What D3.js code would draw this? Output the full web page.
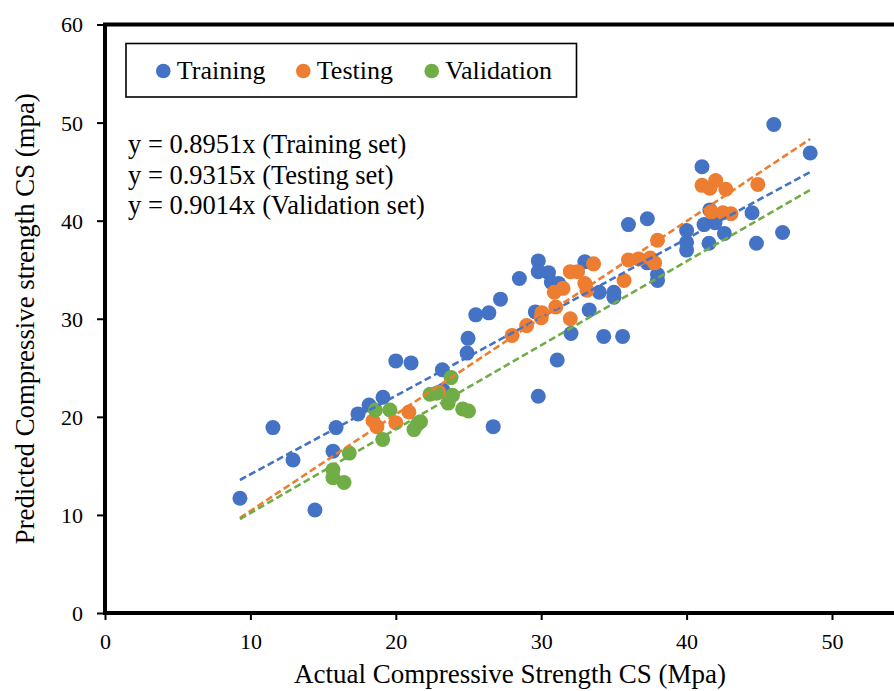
<!DOCTYPE html>
<html>
<head>
<meta charset="utf-8">
<script src="https://cdn.jsdelivr.net/npm/d3@7/dist/d3.min.js"></script>
<style>
  html, body { margin: 0; padding: 0; background: #fff; }
  svg { display: block; font-family: "Liberation Serif", "Times New Roman", serif; }
</style>
</head>
<body>
<div id="chart"></div>
<script>
// ---------- data ----------
const seriesNames = ["Training", "Testing", "Validation"];
const seriesColors = ["#4472C4", "#ED7D31", "#70AD47"];

const trainingX = [9.28, 11.55, 12.93, 14.44, 15.68, 15.89, 17.4, 18.16, 19.12, 20.0, 21.05, 23.2, 23.25, 24.9, 24.97, 25.5, 26.4, 26.7, 27.2, 28.5, 29.6, 29.8, 29.8, 29.8, 30.5, 30.7, 31.2, 31.1, 32.05, 33.0, 33.3, 34.0, 34.3, 35.0, 35.0, 35.6, 36.0, 37.3, 37.3, 38.0, 38.0, 40.0, 40.0, 40.0, 41.06, 41.2, 41.95, 41.6, 41.54, 42.6, 44.5, 44.8, 46.0, 46.6, 48.5];
const trainingY = [11.7, 18.9, 15.6, 10.5, 16.5, 18.9, 20.3, 21.2, 22.0, 25.7, 25.5, 24.8, 22.7, 26.5, 28.0, 30.4, 30.6, 19.0, 32.0, 34.1, 30.7, 35.9, 34.8, 22.1, 34.7, 33.7, 33.6, 25.8, 28.5, 35.8, 30.9, 32.7, 28.2, 32.7, 32.2, 28.2, 39.6, 40.2, 35.7, 34.5, 33.9, 39.0, 37.8, 37.0, 45.5, 39.6, 39.8, 41.1, 37.7, 38.7, 40.8, 37.7, 49.8, 38.8, 46.9];

const testingX = [18.43, 18.7, 20.0, 20.9, 22.97, 28.0, 29.0, 30.05, 30.0, 31.0, 30.9, 31.5, 32.0, 32.0, 32.5, 33.0, 33.15, 33.6, 35.7, 36.0, 36.7, 37.5, 37.8, 38.0, 41.06, 41.6, 42.0, 42.7, 44.9, 41.7, 42.5, 43.05];
const testingY = [19.6, 19.0, 19.4, 20.5, 22.5, 28.3, 29.3, 30.6, 30.1, 31.2, 32.7, 33.1, 30.0, 34.8, 34.8, 33.6, 32.9, 35.6, 33.9, 36.0, 36.1, 36.2, 35.7, 38.0, 43.6, 43.3, 44.1, 43.2, 43.7, 40.9, 40.8, 40.7];

const validationX = [15.68, 15.68, 16.44, 16.8, 18.6, 19.1, 19.6, 21.25, 21.46, 21.7, 22.35, 22.8, 23.8, 23.9, 23.6, 24.6, 25.0];
const validationY = [14.6, 13.8, 13.3, 16.3, 20.7, 17.7, 20.7, 18.7, 19.2, 19.5, 22.3, 22.4, 24.0, 22.2, 21.4, 20.8, 20.6];

// drawn trend lines (slope, intercept) over a common x range
const trendSlopes = [0.8006, 0.985, 0.8554];
const trendIntercepts = [6.13, 0.55, 1.64];
const trendXRange = [9.28, 48.5];

const equationLabels = ["y = 0.8951x (Training set)", "y = 0.9315x (Testing set)", "y = 0.9014x (Validation set)"];

const xTicks = [0, 10, 20, 30, 40, 50];
const yTicks = [0, 10, 20, 30, 40, 50, 60];
const xTitle = "Actual Compressive Strength CS (Mpa)";
const yTitle = "Predicted Compressive strength CS (mpa)";

// ---------- layout ----------
const W = 894, H = 691;
const plotLeft = 105, plotTop = 24.5, plotBottom = 613;
const x = d3.scaleLinear().domain([0, 60]).range([plotLeft, plotLeft + 60 * 14.54]);
const y = d3.scaleLinear().domain([0, 60]).range([plotBottom, plotTop]);

const svg = d3.select("#chart").append("svg").attr("width", W).attr("height", H);

// axes
const xAxis = svg.append("g").attr("transform", `translate(0,${plotBottom})`)
  .call(d3.axisBottom(x).tickValues(xTicks).tickSize(7).tickPadding(13).tickFormat(d3.format("d")));
const yAxis = svg.append("g").attr("transform", `translate(${plotLeft},0)`)
  .call(d3.axisLeft(y).tickValues(yTicks).tickSize(8).tickPadding(14).tickFormat(d3.format("d")));
[xAxis, yAxis].forEach(g => {
  g.attr("font-family", null);
  g.select(".domain").remove();
  g.selectAll(".tick line").attr("stroke", "#000").attr("stroke-width", 2);
  g.selectAll(".tick text").attr("fill", "#000").style("font-size", "22px")
    .style("font-family", "'Liberation Serif','Times New Roman',serif");
});
yAxis.selectAll(".tick text").attr("dy", "0.34em");

// plot frame
svg.append("rect")
  .attr("x", x(0)).attr("y", y(60))
  .attr("width", x(60) - x(0)).attr("height", y(0) - y(60))
  .attr("fill", "none").attr("stroke", "#000").attr("stroke-width", 4);

// points
const seriesData = [
  trainingX.map((v, i) => [v, trainingY[i]]),
  testingX.map((v, i) => [v, testingY[i]]),
  validationX.map((v, i) => [v, validationY[i]])
];
seriesData.forEach((pts, si) => {
  svg.append("g").selectAll("circle").data(pts).join("circle")
    .attr("cx", d => x(d[0])).attr("cy", d => y(d[1]))
    .attr("r", 7.5).attr("fill", seriesColors[si]);
});

// trend lines
trendSlopes.forEach((m, i) => {
  const b = trendIntercepts[i];
  svg.append("line")
    .attr("x1", x(trendXRange[0])).attr("y1", y(m * trendXRange[0] + b))
    .attr("x2", x(trendXRange[1])).attr("y2", y(m * trendXRange[1] + b))
    .attr("stroke", seriesColors[i]).attr("stroke-width", 2.6)
    .attr("stroke-dasharray", "7,3.5");
});

// legend
svg.append("rect").attr("x", 126).attr("y", 43.5).attr("width", 450.5).attr("height", 53.5)
  .attr("fill", "#fff").attr("stroke", "#000").attr("stroke-width", 1.6);
const legendMarkerX = [163.3, 303.3, 431.7];
seriesNames.forEach((name, i) => {
  svg.append("circle").attr("cx", legendMarkerX[i]).attr("cy", 71).attr("r", 7.3).attr("fill", seriesColors[i]);
  svg.append("text").attr("x", legendMarkerX[i] + 13.5).attr("y", 79)
    .style("font-size", "26px").attr("fill", "#000").text(name);
});

// equations
equationLabels.forEach((t, i) => {
  svg.append("text").attr("x", 128).attr("y", 153 + i * 30.5)
    .style("font-size", "26.5px").attr("fill", "#000").text(t);
});

// axis titles
svg.append("text").attr("x", 510).attr("y", 683).attr("text-anchor", "middle")
  .style("font-size", "27px").attr("fill", "#000").text(xTitle);
svg.append("text").attr("transform", `translate(33.5,${(plotTop + plotBottom) / 2}) rotate(-90)`)
  .attr("text-anchor", "middle").style("font-size", "26.8px").attr("fill", "#000").text(yTitle);
</script>
</body>
</html>
